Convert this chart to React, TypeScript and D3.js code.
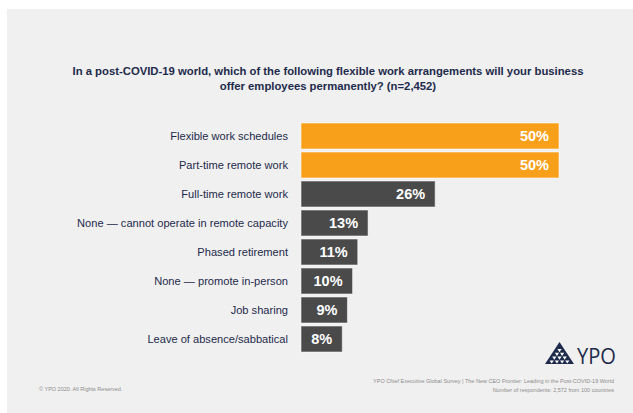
import React from "react";
import * as d3 from "d3";

const categories = [
  "Flexible work schedules",
  "Part-time remote work",
  "Full-time remote work",
  "None — cannot operate in remote capacity",
  "Phased retirement",
  "None — promote in-person",
  "Job sharing",
  "Leave of absence/sabbatical",
];
const values = [50, 50, 26, 13, 11, 10, 9, 8];
const highlighted = [true, true, false, false, false, false, false, false];
const titleLines = [
  "In a post-COVID-19 world, which of the following flexible work arrangements will your business",
  "offer employees permanently? (n=2,452)",
];
const footerLeft = "© YPO 2020. All Rights Reserved.";
const footerRight = [
  "YPO Chief Executive Global Survey | The New CEO Frontier: Leading in the Post-COVID-19 World",
  "Number of respondents: 2,572 from 100 countries",
];

const W = 633;
const H = 413;
const NAVY = "#1d2a4b";
const ORANGE = "#f9a01b";
const GREY = "#4a4a4b";
const FONT = "'Liberation Sans', Arial, Helvetica, sans-serif";

function Logo({ x, y }: { x: number; y: number }) {
  const w = 29;
  const h = 22;
  const rows = 4;
  const tris: string[] = [];
  const cw = 4.2;
  const ch = 3.2;
  for (let r = 0; r < rows; r++) {
    const n = r + 1;
    const cy = y + 7 + r * 3.8;
    for (let i = 0; i < n; i++) {
      const cx = x + w / 2 + (i - (n - 1) / 2) * 5.2;
      tris.push(
        `M${cx - cw / 2},${cy} L${cx + cw / 2},${cy} L${cx},${cy + ch} Z`
      );
    }
  }
  return (
    <g>
      <path d={`M${x + w / 2},${y} L${x + w},${y + h} L${x},${y + h} Z`} fill={NAVY} />
      {tris.map((d, i) => (
        <path key={i} d={d} fill="#ffffff" />
      ))}
      <text
        x={x + 32}
        y={y + h}
        fontFamily="'Open Sans', 'Noto Sans', sans-serif"
        fontSize={22}
        fill={NAVY}
        textLength={39}
        lengthAdjust="spacingAndGlyphs"
      >
        YPO
      </text>
    </g>
  );
}

export default function App() {
  const x = d3.scaleLinear().domain([0, 50]).range([301, 559]);
  const y = d3
    .scaleBand<string>()
    .domain(categories)
    .range([123, 352])
    .paddingInner(3 / 29)
    .paddingOuter(0);

  return (
    <svg
      width={W}
      height={H}
      style={{ position: "absolute", left: 0, top: 0, display: "block" }}
    >
      <rect x={0} y={0} width={W} height={H} fill="#ffffff" />
      <rect x={7} y={9} width={W - 7} height={H - 9} fill="#f0f0f0" />

      {titleLines.map((t, i) => (
        <text
          key={i}
          x={328}
          y={74.5 + i * 15}
          textAnchor="middle"
          fontFamily={FONT}
          fontWeight="bold"
          fontSize={11.3}
          fill={NAVY}
        >
          {t}
        </text>
      ))}

      {categories.map((c, i) => {
        const by = y(c) as number;
        const bh = y.bandwidth();
        return (
          <g key={c}>
            <rect
              x={x(0)}
              y={by}
              width={x(values[i]) - x(0)}
              height={bh}
              fill={highlighted[i] ? ORANGE : GREY}
              stroke="rgba(255,255,255,0.55)"
              strokeWidth={1}
            />
            <text
              x={288}
              y={by + bh / 2 + 4}
              textAnchor="end"
              fontFamily={FONT}
              fontSize={11.1}
              fill={NAVY}
            >
              {c}
            </text>
            <text
              x={x(values[i]) - 10}
              y={by + bh / 2 + 5}
              textAnchor="end"
              fontFamily={FONT}
              fontWeight="bold"
              fontSize={14.5}
              fill="#ffffff"
            >
              {values[i]}%
            </text>
          </g>
        );
      })}

      <Logo x={545} y={342} />

      <text x={39} y={391} fontFamily={FONT} fontSize={5.5} fill="#8c8c8c">
        {footerLeft}
      </text>
      {footerRight.map((t, i) => (
        <text
          key={i}
          x={614}
          y={383 + i * 9}
          textAnchor="end"
          fontFamily={FONT}
          fontSize={5.5}
          fill="#8c8c8c"
        >
          {t}
        </text>
      ))}
    </svg>
  );
}
